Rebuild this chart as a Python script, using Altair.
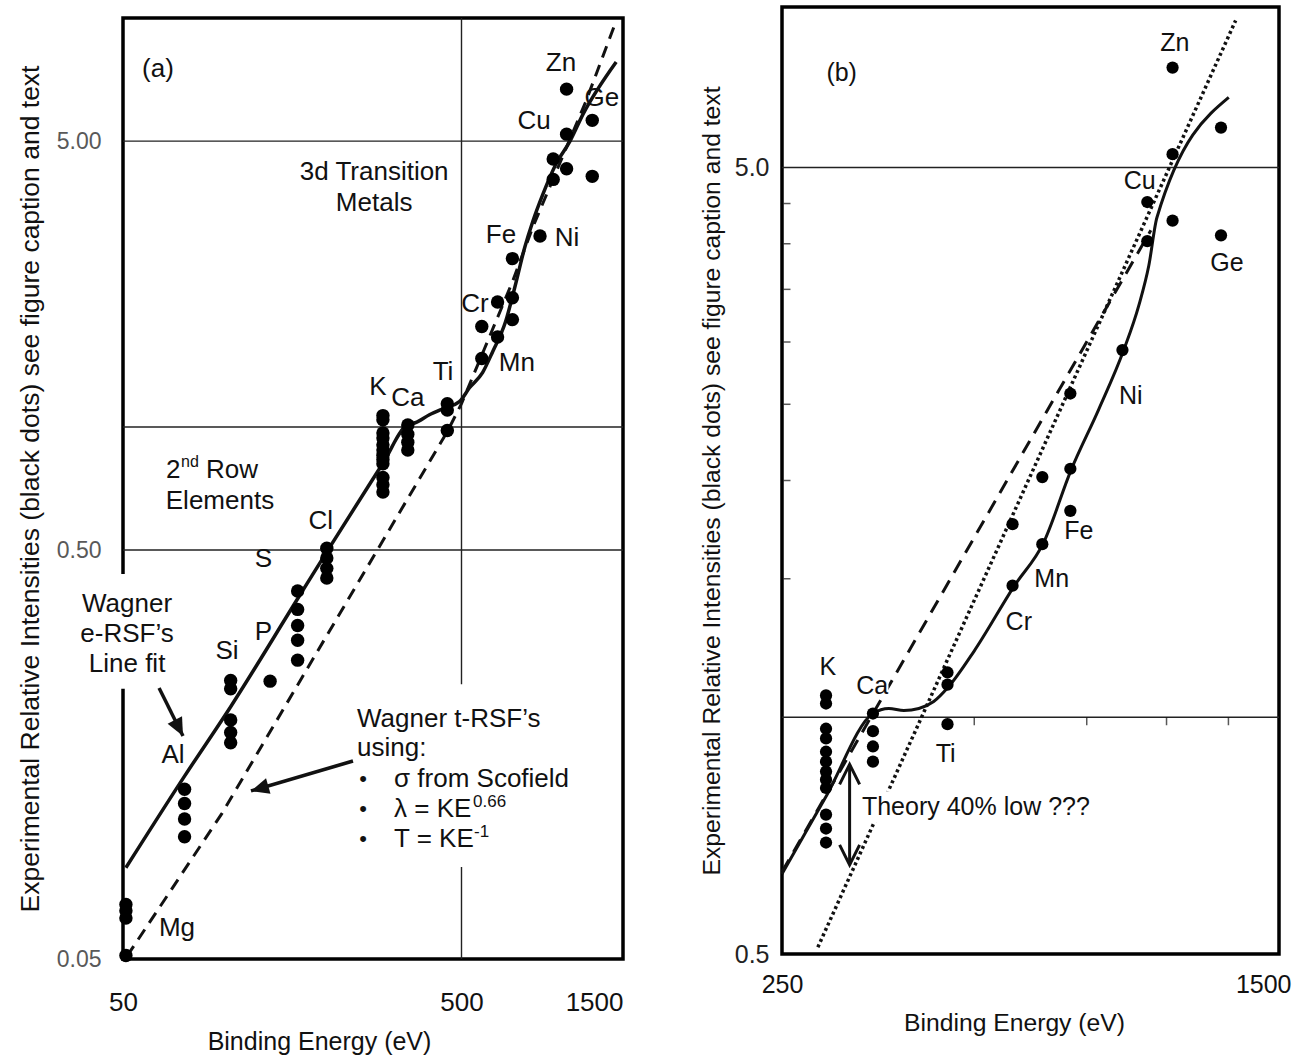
import altair as alt
import pandas as pd

FONT = "Liberation Sans"
INK = "#111111"

# ---------------- experimental relative intensities (black dots) ----------------
dot_be = [51, 51, 51, 51,
          76, 76, 76, 76,
          104, 104, 104, 104, 104,
          136,
          164, 164, 164, 164, 164,
          200, 200, 200, 200,
          293, 293, 293, 293, 293, 293, 293, 293, 293, 293, 293, 293,
          347, 347, 347, 347,
          454, 454, 454,
          574, 574,
          639, 639,
          707, 707, 707,
          853,
          933, 933,
          1022, 1022, 1022,
          1217, 1217]
dot_val = [0.068, 0.0656, 0.063, 0.051,
           0.130, 0.120, 0.110, 0.0995,
           0.240, 0.229, 0.192, 0.179, 0.169,
           0.239,
           0.397, 0.358, 0.327, 0.301, 0.269,
           0.505, 0.478, 0.451, 0.427,
           1.066, 1.041, 0.967, 0.940, 0.904, 0.878, 0.853, 0.833, 0.813, 0.752, 0.722, 0.693,
           1.011, 0.960, 0.918, 0.878,
           1.14, 1.10, 0.98,
           1.47, 1.76,
           1.66, 2.02,
           1.83, 2.07, 2.58,
           2.93,
           4.03, 4.52,
           4.28, 5.2, 6.7,
           4.1, 5.62]

# ---------------- panel (a) curves ----------------
fit_a_be = [51, 76, 104, 164, 200, 293, 346, 365, 402, 448, 493, 528, 577, 618, 675, 718, 769, 812,
            870, 950, 1046, 1143, 1432]
fit_a_val = [0.0836, 0.140, 0.207, 0.38, 0.495, 0.815, 1.012, 1.024, 1.071, 1.114, 1.153, 1.247, 1.358,
             1.528, 1.81, 2.19, 2.75, 3.18, 3.71, 4.39, 5.0, 5.82, 7.81]
trsf_a_be = [51.4, 97.7, 169, 454, 500, 708, 812, 1167, 1432]
trsf_a_val = [0.0508, 0.113, 0.244, 0.974, 1.14, 2.27, 3.08, 6.27, 9.84]

# ---------------- panel (b) curves ----------------
fit_b_be = [250, 293, 347, 367.5, 388, 409.5, 432, 456, 499.5, 577, 642.5, 708.5, 783.5, 857, 905, 938,
            966, 1251.5]
fit_b_val = [0.632, 0.793, 1.011, 1.026, 1.020, 1.026, 1.047, 1.094, 1.213, 1.467, 1.67, 2.06, 2.465,
             2.93, 3.34, 3.75, 4.32, 6.14]
dash_b_be = [250, 945]
dash_b_val = [0.636, 4.16]
dot_b_be = [284.5, 1283]
dot_b_val = [0.510, 7.69]

# ---------------- grids / ticks ----------------
grid_a_y = [0.5, 1.0, 5.0]
grid_a_x = [500]
grid_b_y = [1.0, 5.0]
xa_ticks = [50, 500, 1500]
ya_ticks = [0.05, 0.5, 5]
xb_ticks = [250, 1500]
yb_ticks = [0.5, 5]
xb_minor = [500, 750, 1000, 1250]
yb_minor = [1.5, 2.0, 2.5, 3.0, 3.5, 4.0, 4.5]

# ---------------- annotations panel (a) ----------------
a_lbl_text = ["(a)", "Zn", "Ge", "Cu", "3d Transition", "Metals", "Fe", "Ni", "Cr", "Mn", "Ti", "K", "Ca",
              "Elements", "Cl", "S", "P", "Si", "Wagner", "e-RSF\u2019s", "Line fit", "Al", "Mg"]
a_lbl_be = [63.4, 984, 1300, 819, 276, 276, 654, 1025, 548, 729, 441, 283, 347,
            96.7, 192, 130, 130, 101.5, 51.4, 51.4, 51.4, 70.3, 72.2]
a_lbl_val = [7.5, 7.75, 6.37, 5.6, 4.2, 3.53, 2.95, 2.90, 2.0, 1.43, 1.36, 1.25, 1.18,
             0.659, 0.589, 0.475, 0.315, 0.283, 0.369, 0.312, 0.263, 0.158, 0.0595]
row_anchor_be = [67.0]
row_anchor_val = [0.784]
trsf_head_text = ["Wagner t-RSF\u2019s", "using:"]
trsf_head_be = [245.6, 245.6]
trsf_head_val = [0.193, 0.164]
bullet_be = [256, 256, 256]
bullet_val = [0.1377, 0.1163, 0.0983]
item_text = ["\u03c3 from Scofield", "\u03bb = KE", "T = KE"]
item_be = [316, 316, 316]
item_val = [0.1377, 0.1163, 0.0983]
sup1_text = ["0.66"]
sup1_val = [0.1163]
sup2_text = ["-1"]
sup2_val = [0.0983]
sup_be = [316]
arrow_a_tail_be = [63.9, 239]
arrow_a_tail_val = [0.230, 0.1525]
arrow_a_tip_be = [75.2, 119.4]
arrow_a_tip_val = [0.1755, 0.1288]
arrow_a_angle = [153, 254]
box_a_be = [37.6, 232.6]
box_a_be2 = [70.4, 1089]
box_a_val = [0.229, 0.0839]
box_a_val2 = [0.437, 0.235]

# ---------------- annotations panel (b) ----------------
b_lbl_text = ["(b)", "Zn", "Cu", "Ge", "Ni", "Fe", "Mn", "Cr", "K", "Ca", "Ti"]
b_lbl_be = [310, 1030, 908, 1243, 879, 729, 661, 587, 295, 346, 451]
b_lbl_val = [6.59, 7.19, 4.81, 3.78, 2.56, 1.724, 1.50, 1.32, 1.157, 1.097, 0.899]
note_b_text = ["Theory 40% low ???"]
note_b_be = [333.5]
note_b_val = [0.770]
darrow_be = [319]
darrow_lo = [0.649]
darrow_hi = [0.871]
box_b_be = [328, 330]
box_b_be2 = [367, 761]
box_b_val = [1.055, 0.736]
box_b_val2 = [1.135, 0.805]

HEAD = "M0,0L-0.45,1L0.45,1Z"
CHEV = "M-0.5,1L0,0L0.5,1"

# ---------------- scales & axes ----------------
xa = alt.Scale(type="log", domain=[50, 1500], nice=False)
ya = alt.Scale(type="log", domain=[0.05, 10], nice=False)
xb = alt.Scale(type="log", domain=[250, 1500], nice=False)
yb = alt.Scale(type="log", domain=[0.5, 8], nice=False)

YTITLE = "Experimental Relative Intensities (black dots) see figure caption and text"
LAST = "datum.value >= 1500"

ax_xa = alt.Axis(values=xa_ticks, format="d", labelFont=FONT, labelFontSize=26, labelColor=INK,
                 labelPadding=30, ticks=False, tickSize=0, domain=False, grid=False, labelFlush=False,
                 labelOverlap=False,
                 labelAlign={"condition": {"test": LAST, "value": "right"}, "value": "center"},
                 title="Binding Energy (eV)", titleFont=FONT, titleFontSize=25, titleFontWeight="normal",
                 titleColor=INK, titlePadding=14, titleX=196, titleAlign="center")
ax_ya = alt.Axis(values=ya_ticks, format=".2f", labelFont=FONT, labelFontSize=23, labelColor="#595959",
                 labelPadding=22, ticks=False, tickSize=0, domain=False, grid=False, labelFlush=False,
                 labelOverlap=False, title=YTITLE, titleFont=FONT, titleFontSize=26.5,
                 titleFontWeight="normal", titleColor=INK, titlePadding=12)
ax_xb = alt.Axis(values=xb_ticks, format="d", labelFont=FONT, labelFontSize=25, labelColor=INK,
                 labelPadding=18, ticks=False, tickSize=0, domain=False, grid=False, labelFlush=False,
                 labelOverlap=False,
                 labelAlign={"condition": {"test": LAST, "value": "right"}, "value": "center"},
                 labelOffset={"condition": {"test": LAST, "value": 12}, "value": 0},
                 title="Binding Energy (eV)", titleFont=FONT, titleFontSize=24.7,
                 titleFontWeight="normal", titleColor=INK, titlePadding=13, titleX=232, titleAlign="center")
ax_yb = alt.Axis(values=yb_ticks, format=".1f", labelFont=FONT, labelFontSize=25, labelColor="#222222",
                 labelPadding=13, ticks=False, tickSize=0, domain=False, grid=False, labelFlush=False,
                 labelOverlap=False, title=YTITLE, titleFont=FONT, titleFontSize=24.7,
                 titleFontWeight="normal", titleColor=INK, titlePadding=10)


def XA(f="be"):
    return alt.X(f"{f}:Q", scale=xa, axis=ax_xa)


def YA(f="val"):
    return alt.Y(f"{f}:Q", scale=ya, axis=ax_ya)


def XB(f="be"):
    return alt.X(f"{f}:Q", scale=xb, axis=ax_xb)


def YB(f="val"):
    return alt.Y(f"{f}:Q", scale=yb, axis=ax_yb)


def df(**kw):
    return pd.DataFrame(kw)


def txt(data, X, Y, size=25, align="center", **kw):
    return alt.Chart(data).mark_text(font=FONT, fontSize=size, color=INK, align=align,
                                     baseline="middle", **kw).encode(x=X(), y=Y(), text="t:N")


# ================= panel (a) =================
FA = 26
dots_a = df(be=dot_be, val=dot_val)
a_layers = [
    alt.Chart(dots_a).mark_point(opacity=0).encode(x=XA(), y=YA()),
    alt.Chart(df(val=grid_a_y)).mark_rule(color="#222222", strokeWidth=1.4).encode(y=YA()),
    alt.Chart(df(be=grid_a_x)).mark_rule(color="#222222", strokeWidth=1.4).encode(x=XA()),
    alt.Chart(df(be=box_a_be, be2=box_a_be2, val=box_a_val, val2=box_a_val2)).mark_rect(color="white").encode(
        x=XA(), x2="be2:Q", y=YA(), y2="val2:Q"),
    alt.Chart(df(be=trsf_a_be, val=trsf_a_val)).mark_line(color=INK, strokeWidth=3, strokeDash=[12, 8]).encode(
        x=XA(), y=YA()),
    alt.Chart(df(be=fit_a_be, val=fit_a_val)).mark_line(color=INK, strokeWidth=3.5, interpolate="monotone").encode(
        x=XA(), y=YA()),
    alt.Chart(dots_a).mark_circle(color="black", size=180, opacity=1).encode(x=XA(), y=YA()),
    alt.Chart(df(be=arrow_a_tail_be, val=arrow_a_tail_val, be2=arrow_a_tip_be, val2=arrow_a_tip_val)).mark_rule(
        color=INK, strokeWidth=3.5).encode(x=XA(), y=YA(), x2="be2:Q", y2="val2:Q"),
    alt.Chart(df(be=arrow_a_tip_be, val=arrow_a_tip_val, ang=arrow_a_angle)).mark_point(
        shape=HEAD, filled=True, size=1296, opacity=1, color=INK, strokeWidth=0).encode(
        x=XA(), y=YA(), angle=alt.Angle("ang:Q", scale=None)),
    txt(df(be=a_lbl_be, val=a_lbl_val, t=a_lbl_text), XA, YA, size=FA),
    txt(df(be=row_anchor_be, val=row_anchor_val, t=["2"]), XA, YA, size=FA, align="left"),
    txt(df(be=row_anchor_be, val=row_anchor_val, t=["nd"]), XA, YA, size=16, align="left", dx=15, dy=-8),
    txt(df(be=row_anchor_be, val=row_anchor_val, t=["Row"]), XA, YA, size=FA, align="left", dx=40),
    txt(df(be=trsf_head_be, val=trsf_head_val, t=trsf_head_text), XA, YA, size=FA, align="left"),
    txt(df(be=bullet_be, val=bullet_val, t=["\u2022"] * 3), XA, YA, size=22),
    txt(df(be=item_be, val=item_val, t=item_text), XA, YA, size=FA, align="left"),
    txt(df(be=sup_be, val=sup1_val, t=sup1_text), XA, YA, size=17, align="left", dx=79, dy=-7),
    txt(df(be=sup_be, val=sup2_val, t=sup2_text), XA, YA, size=17, align="left", dx=80, dy=-7),
]
panel_a = alt.layer(*a_layers).properties(width=500, height=941)

# ================= panel (b) =================
dots_b = dots_a[dots_a["be"] >= 250]
b_layers = [
    alt.Chart(dots_b).mark_point(opacity=0).encode(x=XB(), y=YB()),
    alt.Chart(df(val=grid_b_y)).mark_rule(color="#222222", strokeWidth=1.4).encode(y=YB()),
    alt.Chart(df(be=xb_minor, val=[1.0] * 4)).mark_tick(
        orient="vertical", size=8, thickness=1.5, yOffset=4, color=INK).encode(x=XB(), y=YB()),
    alt.Chart(df(be=[250] * 7, val=yb_minor)).mark_tick(
        orient="horizontal", size=7, thickness=1.5, xOffset=5, color=INK).encode(x=XB(), y=YB()),
    alt.Chart(df(be=dot_b_be, val=dot_b_val)).mark_line(color=INK, strokeWidth=3.5, strokeDash=[3, 3]).encode(
        x=XB(), y=YB()),
    alt.Chart(df(be=dash_b_be, val=dash_b_val)).mark_line(color=INK, strokeWidth=3, strokeDash=[14, 9]).encode(
        x=XB(), y=YB()),
    alt.Chart(df(be=box_b_be, be2=box_b_be2, val=box_b_val, val2=box_b_val2)).mark_rect(color="white").encode(
        x=XB(), x2="be2:Q", y=YB(), y2="val2:Q"),
    alt.Chart(df(be=fit_b_be, val=fit_b_val)).mark_line(color=INK, strokeWidth=3, interpolate="monotone").encode(
        x=XB(), y=YB()),
    alt.Chart(dots_b).mark_circle(color="black", size=150, opacity=1).encode(x=XB(), y=YB()),
    alt.Chart(df(be=darrow_be, val=darrow_lo, val2=darrow_hi)).mark_rule(color=INK, strokeWidth=3).encode(
        x=XB(), y=YB(), y2="val2:Q"),
    alt.Chart(df(be=darrow_be + darrow_be, val=darrow_hi + darrow_lo, ang=[0, 180])).mark_point(
        shape=CHEV, filled=False, size=1600, opacity=1, color=INK, strokeWidth=3).encode(
        x=XB(), y=YB(), angle=alt.Angle("ang:Q", scale=None)),
    txt(df(be=b_lbl_be, val=b_lbl_val, t=b_lbl_text), XB, YB),
    txt(df(be=note_b_be, val=note_b_val, t=note_b_text), XB, YB, align="left"),
]
panel_b = alt.layer(*b_layers).properties(width=497, height=947)

spacer = alt.Chart(df(s=[1])).mark_rect(opacity=0).encode(
    x=alt.value(0), x2=alt.value(10), y=alt.value(0), y2=alt.value(6)
).properties(width=10, height=6, view=alt.ViewBackground(stroke="transparent", strokeWidth=0))

chart = alt.hconcat(
    alt.vconcat(spacer, panel_a, spacing=0),
    panel_b,
    spacing=71,
).properties(
    padding={"left": 15, "top": 5, "right": 0, "bottom": 0}
).configure(
    font=FONT, background="white"
).configure_view(
    stroke="black", strokeWidth=3.5
)

chart.save("out.html", embed_options={"renderer": "svg", "actions": False})
